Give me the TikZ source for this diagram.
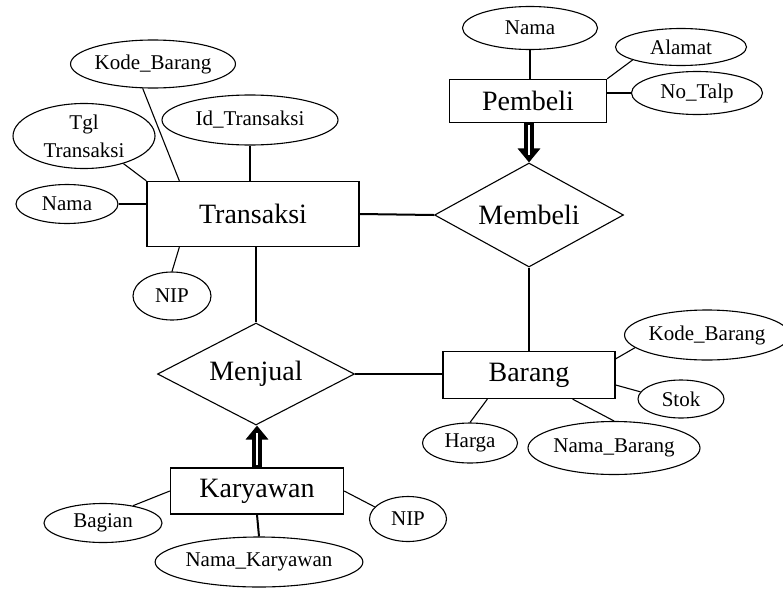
\documentclass[tikz,border=0pt]{standalone}
\usepackage{fontspec}
\setmainfont{Liberation Serif}
\usetikzlibrary{shapes.geometric,arrows.meta}
\tikzset{
  entity/.style={draw, line width=1.3pt, rectangle, inner sep=0pt, font=\fontsize{28}{32}\selectfont},
  rel/.style={draw, line width=1.1pt, diamond, aspect=2, inner sep=0pt, font=\fontsize{28}{32}\selectfont},
  attr/.style={draw, line width=1.1pt, ellipse, inner sep=0pt, align=center, font=\fontsize{21}{28}\selectfont},
  link/.style={line width=1.1pt},
  thicklink/.style={line width=2pt},
  bigarrow/.style={line width=10pt, -{Triangle[length=14pt, width=22pt]}},
  slit/.style={white, line width=2.5pt, shorten >=7pt, shorten <=2pt},
}
\begin{document}
\begin{tikzpicture}[x=1pt,y=-1pt]
\useasboundingbox (0,0) rectangle (783,589);
% entities
\node[entity, minimum width=212pt, minimum height=65pt] (tr) at (253,214) {Transaksi};
\node[entity, minimum width=157pt, minimum height=43pt] (pb) at (528,101) {Pembeli};
\node[entity, minimum width=172pt, minimum height=47pt] (br) at (529,375) {Barang};
\node[entity, minimum width=173pt, minimum height=46pt] (ky) at (257,491) {Karyawan};
% relationships
\node[rel, minimum width=189pt, minimum height=104pt] (mb) at (529,215) {Membeli};
\node[rel, minimum width=197pt, minimum height=102pt] (mj) at (256,374) {Menjual};
% attributes
\node[attr, minimum width=160pt, minimum height=48pt] (kb1) at (153,64) {Kode\_Barang};
\node[attr, minimum width=142pt, minimum height=65pt] (tgl) at (84,136) {Tgl\\Transaksi};
\node[attr, minimum width=176pt, minimum height=50pt] (idt) at (250,120) {Id\_Transaksi};
\node[attr, minimum width=102pt, minimum height=39pt] (nm1) at (67,204) {Nama};
\node[attr, minimum width=78pt, minimum height=48pt] (nip1) at (172,296) {NIP};
\node[attr, minimum width=135pt, minimum height=43pt] (nm2) at (530,28) {Nama};
\node[attr, minimum width=131pt, minimum height=37pt] (alm) at (681,47) {Alamat};
\node[attr, minimum width=131pt, minimum height=43pt] (tlp) at (697,93) {No\_Talp};
\node[attr, minimum width=154pt, minimum height=50pt] (kb2) at (707,335) {Kode\_Barang};
\node[attr, minimum width=86pt, minimum height=38pt] (stk) at (681,399) {Stok};
\node[attr, minimum width=95pt, minimum height=40pt] (hrg) at (470,443) {Harga};
\node[attr, minimum width=172pt, minimum height=53pt] (nmb) at (614,448) {Nama\_Barang};
\node[attr, minimum width=118pt, minimum height=39pt] (bag) at (103,523) {Bagian};
\node[attr, minimum width=200pt, minimum height=50pt] (nmk) at (259,562) {Nama\_Karyawan};
\node[attr, minimum width=77pt, minimum height=45pt] (nip2) at (408,519) {NIP};
% connectors: Transaksi
\draw[link] (kb1.-113) -- ([xshift=33pt]tr.north west);
\draw[link] (tgl.-35) -- (tr.north west);
\draw[thicklink] (idt.south) -- (tr.north -| idt.south);
\draw[link] (nm1.east) -- (nm1.east -| tr.west);
\draw[link] (nip1.north) -- ([xshift=33pt]tr.south west);
\draw[link] (tr.south -| mj.north) -- (mj.north);
\draw[thicklink] (tr.east) -- (mb.west);
% Pembeli
\draw[link] (nm2.south) -- (pb.north -| nm2.south);
\draw[link] (alm.-165) -- (pb.north east);
\draw[link] (tlp.west) -- (tlp.west -| pb.east);
\draw[bigarrow] (pb.south -| mb.north) -- (mb.north);
\draw[slit] (pb.south -| mb.north) -- (mb.north);
% Barang
\draw[link] (mb.south) -- (br.north -| mb.south);
\draw[link] (kb2.-170) -- ([yshift=-8pt]br.north east);
\draw[link] (stk.170) -- ([yshift=-10pt]br.east);
\draw[link] (hrg.north) -- ([xshift=45pt]br.south west);
\draw[link] (nmb.north) -- ([xshift=-43pt]br.south east);
\draw[link] (mj.east) -- (mj.east -| br.west);
% Karyawan
\draw[bigarrow] (ky.north) -- (ky.north |- mj.south);
\draw[slit] (ky.north) -- (ky.north |- mj.south);
\draw[link] (bag.30) -- (ky.west);
\draw[thicklink] (nmk.north) -- (ky.south);
\draw[link] (nip2.160) -- (ky.east);
\end{tikzpicture}
\end{document}
